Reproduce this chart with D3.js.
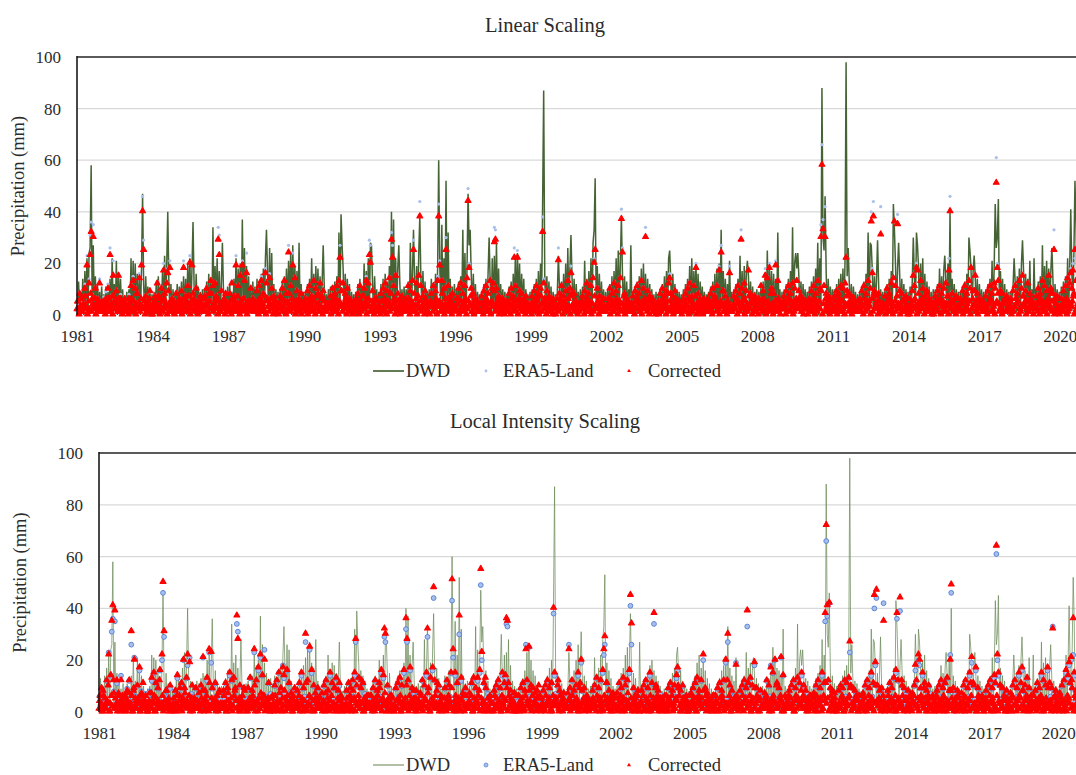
<!DOCTYPE html>
<html><head><meta charset="utf-8">
<script src="https://cdn.jsdelivr.net/npm/d3@7/dist/d3.min.js"></script>
<style>
body{margin:0;background:#fff}
</style></head><body>
<svg id="chart" width="1076" height="775"></svg>
<script>
// ---- data: one row per year 1981..2020, semi-monthly readings (24 per row) ----
const tickYears = [1981,1984,1987,1990,1993,1996,1999,2002,2005,2008,2011,2014,2017,2020];
const yTicks = [0,20,40,60,80,100];
const titles = ["Linear Scaling","Local Intensity Scaling"];
const legendNames = ["DWD","ERA5-Land","Corrected"];

const dwd = [
[3,13,1,9,2,14,0,17,3,22,1,24,26,58,1,27,2,15,0,12,2,9,1,11],
[1,8,0,11,2,9,1,14,0,22,2,12,1,21,0,16,3,14,1,10,0,7,2,9],
[2,10,1,22,0,21,3,20,1,16,2,14,0,18,47,12,1,15,2,11,0,9,1,8],
[1,9,2,12,0,15,1,11,3,17,0,23,2,19,40,14,1,12,0,10,2,8,1,12],
[2,11,0,13,1,15,2,14,0,20,3,22,1,18,36,12,0,16,2,11,1,9,0,10],
[1,10,2,13,0,16,1,14,2,34,0,19,3,22,1,17,0,12,28,10,2,9,1,11],
[2,12,1,9,0,14,2,22,1,18,3,20,0,37,2,26,1,19,0,15,2,10,1,13],
[1,11,0,14,2,13,1,16,3,18,0,22,33,17,1,26,2,24,0,12,1,10,2,9],
[2,10,1,13,0,15,2,18,1,21,3,24,0,27,2,19,1,17,0,28,2,12,1,9],
[1,9,2,12,0,14,1,22,2,16,0,19,3,18,1,15,2,13,27,11,1,8,2,10],
[2,11,1,10,0,13,2,15,1,32,3,39,27,18,0,16,2,14,1,12,0,9,2,8],
[1,9,0,12,2,14,1,11,3,20,0,17,2,22,1,28,27,13,0,15,2,10,1,9],
[2,12,1,14,0,16,2,13,1,19,3,40,2,37,0,22,1,18,27,12,2,10,0,11],
[1,10,2,13,0,28,1,16,33,14,2,19,0,24,38,15,3,17,1,13,0,9,2,10],
[2,14,1,12,0,16,3,18,60,20,1,35,2,22,0,52,1,32,2,14,0,11,1,12],
[1,10,2,13,0,15,2,33,1,24,0,18,47,27,33,16,2,16,1,12,0,9,2,8],
[2,9,1,12,0,14,2,16,30,13,1,22,0,23,2,28,1,18,0,12,2,10,1,9],
[1,8,2,11,0,13,1,16,2,23,0,24,3,20,1,16,2,14,0,10,1,8,2,9],
[2,10,1,12,0,14,2,17,1,20,3,44,87,16,0,15,2,13,1,11,0,9,2,8],
[1,9,23,11,0,13,2,16,1,20,0,26,2,18,31,15,1,14,0,12,2,9,1,10],
[2,11,1,21,0,14,2,17,1,22,0,28,33,53,2,19,1,16,0,13,2,10,1,9],
[1,10,2,12,0,15,1,17,2,22,0,25,3,20,38,16,1,15,0,13,2,10,1,27],
[2,9,1,11,0,13,2,15,1,18,0,20,2,16,1,14,0,12,2,10,1,8,0,9],
[1,8,2,10,0,12,1,15,2,17,0,22,25,14,1,16,2,12,0,10,1,9,2,8],
[2,10,1,12,0,14,2,19,1,22,0,17,2,20,1,16,0,13,2,11,1,9,0,8],
[1,9,2,11,0,13,1,16,2,18,0,20,3,33,1,17,2,14,0,12,1,21,2,9],
[2,10,1,12,0,14,2,23,1,17,0,19,2,16,21,15,1,13,0,11,2,9,1,10],
[1,9,2,11,0,13,1,15,2,25,0,19,2,17,1,16,0,14,2,32,1,10,0,9],
[2,10,1,12,0,14,2,17,1,34,0,20,24,18,24,15,1,13,0,12,2,10,1,9],
[1,11,2,13,0,15,1,18,2,28,0,22,3,88,30,25,46,17,0,14,2,11,1,10],
[2,10,1,12,0,14,2,16,1,18,0,21,98,15,26,13,1,12,0,11,2,9,1,8],
[1,9,2,11,0,13,1,16,2,32,0,28,27,17,1,15,2,14,29,12,1,10,0,9],
[2,10,1,12,0,14,2,17,1,43,33,20,2,18,28,16,0,14,2,12,1,10,0,9],
[1,11,2,13,30,15,1,32,27,18,0,20,2,22,1,16,0,13,2,11,1,9,0,10],
[2,10,1,12,0,18,2,15,1,17,23,14,2,20,1,40,0,14,2,12,1,10,0,9],
[1,9,2,11,0,13,1,16,2,30,25,18,0,17,23,15,1,14,0,12,2,10,1,9],
[2,10,1,12,0,14,2,21,1,18,43,26,30,45,1,17,2,14,0,12,1,10,0,9],
[1,9,2,11,22,13,1,15,2,18,0,20,29,17,1,16,0,14,2,21,1,10,0,22],
[2,10,1,13,0,15,2,27,1,19,0,21,2,18,1,17,26,14,0,12,2,10,1,9],
[1,11,2,13,0,15,1,22,2,19,41,17,2,24,52,35,1,16,0,13,2,11,1,10]
];

const era5 = [
[6,4,9,2,7,5,3,12,4,23,2,14,31,36,8,35,3,11,5,7,2,14,4,6],
[3,7,2,9,5,12,4,26,2,8,21,6,3,10,5,16,2,8,6,4,3,7,5,2],
[4,8,3,12,6,15,2,11,5,9,3,16,4,20,46,29,3,8,5,6,2,9,4,3],
[5,3,8,2,13,4,7,3,11,6,20,9,4,13,18,5,21,3,7,2,6,4,9,3],
[4,7,3,10,5,21,2,8,6,12,3,23,4,19,9,5,3,11,6,4,2,8,5,3],
[3,8,5,11,2,9,6,14,3,12,4,13,8,6,34,31,2,10,4,6,3,9,5,2],
[5,9,3,13,4,8,6,23,2,12,5,16,3,21,7,14,4,24,6,5,3,11,4,7],
[4,6,2,10,5,12,3,15,6,9,2,18,13,7,4,16,3,11,5,8,2,6,4,3],
[5,8,3,11,4,14,2,9,6,27,3,12,5,24,4,15,2,10,6,7,3,9,5,4],
[3,7,5,10,2,12,4,8,6,14,3,11,5,9,2,13,4,8,10,6,2,5,4,3],
[4,8,3,11,5,9,2,12,6,14,27,10,4,13,3,9,5,11,2,7,4,6,3,5],
[3,6,2,9,4,12,5,8,3,11,6,15,4,13,29,27,2,10,5,7,3,6,4,2],
[4,9,3,11,6,13,2,10,5,15,4,32,27,12,3,16,6,9,4,7,2,8,5,3],
[5,7,3,12,4,10,6,14,29,9,2,13,5,16,44,12,4,8,3,10,5,6,2,4],
[4,9,5,12,3,10,6,15,43,21,4,14,2,11,5,30,3,12,6,8,2,9,4,3],
[3,7,5,11,2,13,4,9,6,12,3,15,49,20,5,11,2,9,4,7,3,6,5,2],
[5,8,3,10,4,12,6,9,2,14,5,11,13,34,33,11,4,8,6,5,2,7,4,3],
[4,6,2,9,5,11,3,8,26,12,4,25,6,10,3,9,5,7,2,8,4,5,3,2],
[5,8,3,10,4,12,6,9,2,11,5,38,14,7,4,10,3,8,5,6,2,7,4,3],
[4,7,26,9,3,12,5,8,6,10,4,14,2,11,19,8,5,9,3,6,4,5,2,3],
[5,8,3,10,4,13,6,9,2,12,5,15,22,26,4,11,3,8,5,6,2,7,4,3],
[4,7,3,11,5,9,2,13,6,10,4,12,3,15,41,26,5,9,2,7,4,6,3,2],
[5,8,4,10,3,12,6,9,2,14,4,11,5,34,3,10,6,8,4,7,2,5,3,4],
[3,6,2,9,4,11,5,8,3,10,6,13,16,9,4,8,2,10,5,6,3,4,2,3],
[4,7,3,9,5,11,2,13,6,8,4,12,3,20,5,9,2,7,4,6,3,5,2,3],
[3,6,5,9,2,11,4,8,6,12,3,19,5,27,4,10,2,8,5,6,3,19,4,2],
[4,8,3,10,5,12,6,9,33,11,4,13,2,10,5,18,3,9,6,7,2,8,4,3],
[5,7,3,12,4,10,6,18,2,15,5,20,3,11,4,9,6,21,2,14,4,6,3,5],
[4,8,3,10,5,12,2,9,6,13,4,11,5,14,3,10,6,8,2,7,4,6,3,5],
[3,7,5,10,2,12,4,9,6,14,3,11,35,66,37,12,42,9,4,8,2,7,5,3],
[4,8,3,10,5,9,2,12,6,11,4,13,23,10,5,9,3,8,6,7,2,6,4,3],
[3,7,2,10,4,12,5,9,3,14,6,11,40,18,44,10,4,8,6,9,3,42,2,4],
[4,8,3,11,5,9,6,13,2,15,36,12,4,39,5,10,3,9,6,7,2,8,4,3],
[3,7,5,10,16,12,4,20,18,9,6,14,3,11,5,8,2,10,4,7,3,6,5,2],
[4,8,3,10,5,12,6,9,2,11,4,13,5,8,22,46,3,9,6,7,2,8,4,3],
[3,7,5,10,2,12,4,9,6,14,11,19,3,10,5,16,2,9,4,7,3,6,5,2],
[4,8,3,10,5,12,6,9,2,13,11,61,20,14,5,10,3,9,6,7,2,8,4,3],
[3,7,2,10,4,12,5,9,6,14,3,11,16,8,4,10,6,13,2,9,4,6,3,5],
[4,8,3,11,5,9,6,14,2,12,4,10,5,16,3,11,6,9,33,7,2,8,4,3],
[3,7,5,10,2,12,4,15,6,13,18,11,20,9,22,14,4,8,2,7,3,6,5,2]
];

const corrLS = [
[5,2,8,1,6,3,2,10,3,19,1,12,23,32,6,30,2,10,4,6,1,12,3,5],
[2,5,1,6,4,10,3,23,1,7,15,5,2,9,4,15,1,6,5,3,2,6,4,1],
[3,6,2,11,5,13,1,10,4,8,2,14,3,19,40,25,2,7,4,5,1,9,3,2],
[4,2,7,1,12,3,6,2,10,5,17,8,3,12,16,4,18,2,6,1,5,3,8,2],
[3,6,2,9,4,18,1,7,5,11,2,20,3,19,8,4,2,10,5,3,1,7,4,2],
[2,7,4,10,1,8,5,13,2,11,3,12,7,5,29,23,1,9,3,5,2,8,4,1],
[4,8,2,12,3,7,5,19,1,11,4,15,2,19,6,13,3,16,5,4,2,10,3,6],
[3,5,1,9,4,11,2,13,5,8,1,16,12,6,3,14,2,10,4,7,1,5,3,2],
[4,7,2,10,3,13,1,8,5,24,2,11,4,19,3,14,1,9,5,6,2,8,4,3],
[2,6,4,9,1,11,3,7,5,13,2,10,4,8,1,12,3,7,9,5,1,4,3,2],
[3,7,2,10,4,8,1,11,5,13,22,9,3,12,2,8,4,10,1,6,3,5,2,4],
[2,5,1,8,3,11,4,7,2,10,5,13,3,12,23,20,1,9,4,6,2,5,3,1],
[3,8,2,10,5,12,1,9,4,14,3,29,22,11,2,15,5,8,3,6,1,7,4,2],
[4,6,2,11,3,9,5,13,25,8,1,12,4,15,38,11,3,7,2,9,4,5,1,3],
[3,8,4,11,2,9,5,13,38,19,3,13,1,10,4,25,2,11,5,7,1,8,3,2],
[2,6,4,10,1,12,3,8,5,11,2,14,44,18,4,10,1,8,3,6,2,5,4,1],
[4,7,2,9,3,11,5,8,1,13,4,10,12,28,29,10,3,7,5,4,1,6,3,2],
[3,5,1,8,4,10,2,7,22,11,3,22,5,9,2,8,4,6,1,7,3,4,2,1],
[4,7,2,9,3,11,5,8,1,10,4,32,12,6,3,9,2,7,4,5,1,6,3,2],
[3,6,21,8,2,11,4,7,5,9,3,13,1,10,16,7,4,8,2,5,3,4,1,2],
[4,7,2,9,3,12,5,8,1,11,4,14,20,25,3,10,2,7,4,5,1,6,3,2],
[3,6,2,10,4,8,1,12,5,9,3,11,2,14,37,24,4,8,1,6,3,5,2,1],
[4,7,3,9,2,11,5,8,1,13,3,10,4,30,2,9,5,7,3,6,1,4,2,3],
[2,5,1,8,3,10,4,7,2,9,5,12,14,8,3,7,1,9,4,5,2,3,1,2],
[3,6,2,8,4,10,1,12,5,7,3,11,2,18,4,8,1,6,3,5,2,4,1,2],
[2,5,4,8,1,10,3,7,5,11,2,17,4,24,3,9,1,7,4,5,2,16,3,1],
[3,7,2,9,4,11,5,8,29,10,3,12,1,9,4,17,2,8,5,6,1,7,3,2],
[4,6,2,11,3,9,5,15,1,14,4,18,2,10,3,8,5,19,1,13,3,5,2,4],
[3,7,2,9,4,11,1,8,5,12,3,10,4,13,2,9,5,7,1,6,3,5,2,4],
[2,6,4,9,1,11,3,8,5,13,2,10,30,58,33,11,30,8,3,7,1,6,4,2],
[3,7,2,9,4,8,1,11,5,10,3,12,22,9,4,8,2,7,5,6,1,5,3,2],
[2,6,1,9,3,11,4,8,2,13,5,10,36,16,38,9,3,7,5,8,2,31,1,3],
[3,7,2,10,4,8,5,12,1,14,36,11,3,35,4,9,2,8,5,6,1,7,3,2],
[2,6,4,9,15,11,3,18,17,8,5,13,2,10,4,7,1,9,3,6,2,5,4,1],
[3,7,2,9,4,11,5,8,1,10,3,12,4,7,17,40,2,8,5,6,1,7,3,2],
[2,6,4,9,1,11,3,8,5,13,10,18,2,9,4,15,1,8,3,6,2,5,4,1],
[3,7,2,9,4,11,5,8,1,12,10,51,18,13,4,9,2,8,5,6,1,7,3,2],
[2,6,1,9,3,11,4,8,5,13,2,10,15,7,3,9,5,12,1,8,3,5,2,4],
[3,7,2,10,4,8,5,13,1,11,3,9,4,15,2,10,5,8,25,6,1,7,3,2],
[2,6,4,9,1,11,3,14,5,12,16,10,17,8,25,13,3,7,1,6,2,5,4,1]
];

// in-between days of the Linear Scaling corrected series (also 24 per year)
const corrLSmid = [
[2,5,0,3,6,1,4,2,7,3,0,5,2,8,1,4,3,6,0,2,5,1,3,4],
[1,4,3,0,5,2,6,1,3,4,0,7,2,5,3,1,6,2,4,0,3,5,1,2],
[3,0,4,2,6,1,5,3,0,8,2,4,1,6,3,2,5,0,4,1,3,6,2,0],
[0,3,5,1,4,2,7,0,3,5,1,6,2,4,0,9,3,1,5,2,4,0,3,1],
[4,1,2,5,0,3,6,2,4,1,7,3,0,5,2,6,1,4,3,0,2,5,1,3],
[2,6,1,3,4,0,5,2,8,3,1,4,6,2,0,5,3,1,4,2,6,0,3,1],
[1,3,5,0,2,6,3,1,4,7,2,0,5,3,1,6,2,4,0,3,5,1,2,4],
[3,1,4,2,5,0,6,3,1,4,2,7,0,5,3,1,4,6,2,0,3,5,1,2],
[0,4,2,6,1,3,5,0,4,2,8,1,3,6,2,4,0,5,3,1,2,4,0,3],
[2,5,1,3,0,4,6,2,3,1,5,0,7,2,4,1,3,6,0,2,5,3,1,4],
[4,2,0,5,3,1,6,4,2,0,5,3,9,1,4,2,6,0,3,5,1,2,4,0],
[1,3,6,2,4,0,5,1,3,7,2,4,0,6,3,1,5,2,4,0,3,6,1,2],
[3,0,5,1,2,6,4,0,3,5,1,8,2,4,6,0,3,1,5,2,0,4,3,1],
[2,4,1,3,6,0,5,2,4,1,3,6,0,7,2,5,1,3,4,0,6,2,1,3],
[0,5,3,1,4,2,6,0,3,5,1,4,8,2,0,6,3,1,4,2,5,0,3,2],
[3,1,4,6,0,2,5,3,1,4,6,0,2,5,3,7,1,4,0,2,5,3,1,4],
[1,4,2,0,5,3,6,1,2,4,0,5,3,9,1,4,2,6,0,3,1,5,2,0],
[4,2,5,1,3,0,6,4,2,1,5,3,0,6,2,4,1,3,5,0,2,4,1,3],
[2,0,3,5,1,4,6,2,0,3,7,1,4,2,5,0,3,6,1,4,2,0,5,3],
[0,3,1,4,6,2,5,0,3,1,4,2,6,3,0,8,2,4,1,5,3,0,2,4],
[3,5,2,0,4,1,6,3,5,2,0,4,1,7,3,2,5,0,4,1,3,6,2,1],
[1,2,4,6,0,3,5,1,2,4,6,0,3,5,1,4,2,7,0,3,5,1,4,2],
[4,1,3,0,5,2,6,4,1,3,0,5,2,6,4,1,3,0,5,2,6,1,3,0],
[2,4,0,3,1,5,6,2,4,0,3,8,1,5,2,4,0,3,6,1,2,5,3,1],
[0,2,5,1,4,3,6,0,2,5,1,4,3,7,0,2,5,1,4,3,0,6,2,4],
[3,6,1,4,2,0,5,3,6,1,4,2,0,5,3,9,1,4,2,0,5,3,1,2],
[1,3,4,2,6,0,5,1,3,4,2,6,0,5,1,3,7,2,4,0,6,1,3,5],
[4,0,2,5,3,1,6,4,0,2,5,3,1,8,4,0,2,5,3,1,6,2,0,4],
[2,5,3,0,1,4,6,2,5,3,0,1,4,6,2,5,3,7,1,4,0,2,5,3],
[0,4,1,3,5,2,6,0,4,1,3,5,2,9,0,4,1,6,3,5,2,0,4,1],
[3,1,5,2,0,4,6,3,1,5,2,0,4,7,3,1,5,2,0,4,6,3,1,2],
[1,5,2,4,3,0,6,1,5,2,4,3,0,6,1,8,2,4,3,0,5,1,2,4],
[4,2,0,3,5,1,6,4,2,0,3,5,1,7,4,2,0,3,5,1,6,2,4,0],
[2,0,4,1,3,5,6,2,0,4,1,3,5,6,2,0,4,8,1,3,5,2,0,4],
[0,3,5,2,4,1,6,0,3,5,2,4,1,7,0,3,5,2,4,1,6,0,3,2],
[3,4,1,5,0,2,6,3,4,1,5,0,2,6,3,9,1,5,0,2,4,3,1,5],
[1,2,3,0,4,5,6,1,2,3,0,4,5,8,1,2,3,0,4,5,6,1,2,3],
[4,5,0,2,1,3,6,4,5,0,2,1,3,7,4,5,0,2,1,3,6,4,5,0],
[2,3,4,1,5,0,6,2,3,4,1,5,0,6,2,3,8,1,5,0,4,2,3,1],
[0,1,2,4,3,5,6,0,1,2,4,3,5,7,0,1,2,4,3,5,6,0,1,3]
];

const corrLOCI = [
[4,1,9,0,6,2,1,12,3,22,0,14,35,41,7,39,1,12,3,6,0,12,2,5],
[1,6,0,8,3,12,2,31,0,8,20,5,1,10,3,17,0,7,4,2,1,6,3,0],
[2,7,1,13,4,15,0,11,3,9,1,16,2,22,50,31,1,8,3,4,0,10,2,1],
[3,1,8,0,14,2,6,1,11,4,20,9,2,13,22,3,19,1,5,0,4,2,9,1],
[2,7,1,10,3,21,0,8,4,13,1,24,2,23,9,3,1,11,4,2,0,8,3,1],
[1,8,3,11,0,9,4,15,1,12,2,13,8,4,37,28,0,10,2,4,1,9,3,0],
[3,9,1,13,2,8,4,24,0,12,3,17,1,22,5,14,2,20,4,3,1,11,2,5],
[2,6,0,10,3,12,1,15,4,9,0,17,14,5,2,16,1,11,3,7,0,6,2,1],
[3,8,1,11,2,15,0,9,4,30,1,12,3,25,2,16,0,10,4,5,1,9,3,2],
[1,7,3,10,0,12,2,8,4,15,1,11,3,9,0,13,2,8,11,4,0,5,2,1],
[2,8,1,11,3,9,0,12,4,15,28,10,2,13,1,9,3,11,0,5,2,6,1,3],
[1,6,0,9,2,12,3,8,1,11,4,16,2,14,32,30,0,10,3,5,1,6,2,0],
[2,9,1,11,4,13,0,10,3,16,2,36,28,12,1,17,4,9,2,5,0,8,3,1],
[3,7,1,12,2,10,4,15,32,9,0,13,3,17,48,12,2,8,1,10,3,6,0,2],
[2,9,3,12,1,10,4,15,51,24,2,15,0,11,3,37,1,13,4,6,0,9,2,1],
[1,7,3,11,0,13,2,9,4,13,1,16,55,23,3,11,0,9,2,5,1,6,3,0],
[3,8,1,10,2,12,4,9,0,15,3,11,14,36,35,11,2,8,4,3,0,7,2,1],
[2,6,0,9,3,11,1,8,24,12,2,25,4,10,1,9,3,7,0,8,2,5,1,0],
[3,8,1,10,2,12,4,9,0,11,3,40,15,5,2,10,1,8,3,4,0,7,2,1],
[2,7,24,9,1,12,3,8,4,10,2,15,0,11,20,8,3,9,1,4,2,5,0,1],
[3,8,1,10,2,13,4,9,0,12,3,16,24,29,2,11,1,8,3,4,0,7,2,1],
[2,7,1,11,3,9,0,13,4,10,2,12,1,16,45,34,3,9,0,5,2,6,1,0],
[3,8,2,10,1,12,4,9,0,15,2,11,3,38,1,10,4,8,2,5,0,5,1,2],
[1,6,0,9,2,11,3,8,1,10,4,14,17,9,2,8,0,10,3,4,1,4,0,1],
[2,7,1,9,3,11,0,13,4,8,2,12,1,22,3,9,0,7,2,4,1,5,0,1],
[1,6,3,9,0,11,2,8,4,12,1,20,3,30,2,10,0,8,3,4,1,18,2,0],
[2,8,1,10,3,12,4,9,39,11,2,13,0,10,3,19,1,9,4,5,0,8,2,1],
[3,7,1,12,2,10,4,17,0,15,3,20,1,11,2,9,4,21,0,14,2,6,1,3],
[2,8,1,10,3,12,0,9,4,13,2,11,3,15,1,10,4,8,0,5,2,6,1,3],
[1,7,3,10,0,12,2,9,4,15,1,11,38,72,41,12,42,9,2,8,0,7,3,1],
[2,8,1,10,3,9,0,12,4,11,2,13,27,10,3,9,1,8,4,5,0,6,2,1],
[1,7,0,10,2,12,3,9,1,15,4,11,45,19,47,10,2,8,4,9,1,35,0,2],
[2,8,1,11,3,9,4,13,0,16,38,12,2,44,3,10,1,9,4,5,0,8,2,1],
[1,7,3,10,18,12,2,22,20,9,4,15,1,11,3,8,0,10,2,5,1,6,3,0],
[2,8,1,10,3,12,4,9,0,11,2,13,3,8,20,49,1,9,4,5,0,8,2,1],
[1,7,3,10,0,12,2,9,4,15,11,21,1,10,3,17,0,9,2,5,1,6,3,0],
[2,8,1,10,3,12,4,9,0,14,11,64,22,15,3,10,1,9,4,5,0,8,2,1],
[1,7,0,10,2,12,3,9,4,15,1,11,17,8,2,10,4,13,0,9,2,6,1,3],
[2,8,1,11,3,9,4,15,0,12,2,10,3,17,1,11,4,9,32,5,0,8,2,1],
[1,7,3,10,0,12,2,16,4,14,19,11,21,9,36,15,2,8,0,5,1,6,3,0]
];

// in-between days of the Local Intensity Scaling corrected series
const corrLOCImid = [
[1,6,3,0,8,2,5,1,4,10,0,3,6,2,12,1,5,3,0,7,2,4,1,6],
[3,0,5,2,4,7,1,3,6,0,9,2,4,1,5,3,0,6,2,11,1,4,3,0],
[0,4,2,7,1,3,6,0,5,2,4,12,1,3,6,0,4,2,8,1,5,3,0,2],
[2,5,0,3,6,1,4,9,2,0,5,3,7,1,4,2,6,0,3,10,1,5,2,4],
[4,1,3,0,5,8,2,4,1,6,3,0,11,2,5,1,4,3,0,6,2,7,1,3],
[1,3,6,2,0,4,7,1,3,5,0,2,6,9,1,4,2,5,0,3,6,1,8,2],
[3,0,2,5,4,1,6,3,10,2,4,0,5,1,7,3,2,6,0,4,1,5,3,0],
[0,5,3,1,6,2,4,0,7,3,1,5,2,8,0,4,6,1,3,2,5,0,4,9],
[2,4,1,6,0,3,5,2,4,1,11,0,3,6,2,5,1,4,0,7,3,2,5,1],
[5,2,0,4,3,7,1,5,2,0,4,6,1,3,9,2,0,5,4,1,6,3,0,2],
[1,3,5,0,2,6,4,1,8,5,0,3,2,6,4,1,12,3,0,5,2,4,1,6],
[3,6,2,4,1,0,5,3,6,2,9,1,0,5,3,7,2,4,1,0,6,3,5,2],
[0,2,4,1,5,3,6,0,2,4,1,5,10,3,0,6,2,4,1,8,3,5,0,2],
[4,1,6,3,0,2,5,4,1,7,3,0,2,5,4,1,6,3,11,2,0,4,1,5],
[2,5,1,0,4,6,3,2,9,1,0,4,6,3,2,5,1,0,4,7,3,2,6,1],
[1,4,3,6,2,0,5,1,4,3,6,8,0,5,1,4,3,13,2,0,5,1,4,3],
[3,0,6,2,5,1,4,3,0,6,2,5,1,4,9,0,6,2,5,1,4,7,0,6],
[0,6,2,4,3,5,1,0,6,2,4,3,8,1,0,6,2,4,3,5,1,10,6,2],
[5,3,1,0,6,2,4,5,3,1,0,6,2,4,5,3,12,0,6,2,4,5,3,1],
[2,1,4,5,0,3,6,2,1,4,5,0,3,9,2,1,4,5,0,3,6,2,1,4],
[4,2,5,3,1,0,6,4,2,5,3,1,0,6,4,11,5,3,1,0,6,4,2,5],
[1,5,0,2,4,6,3,1,5,0,2,4,7,3,1,5,0,2,4,6,3,1,8,0],
[3,4,2,6,0,1,5,3,4,2,6,0,1,5,3,9,2,6,0,1,5,3,4,2],
[6,0,3,1,5,4,2,6,0,3,1,5,4,10,6,0,3,1,5,4,2,6,0,3],
[0,3,6,4,2,5,1,0,3,6,4,2,5,1,8,3,6,4,2,5,1,0,3,6],
[2,6,4,0,3,1,5,2,6,4,0,3,1,12,2,6,4,0,3,1,5,2,6,4],
[5,1,2,3,6,0,4,5,1,2,3,6,0,4,5,1,9,3,6,0,4,5,1,2],
[1,2,5,6,4,3,0,1,2,5,6,4,3,10,1,2,5,6,4,3,0,1,2,5],
[4,6,1,5,2,3,0,4,6,1,5,2,3,8,4,6,1,5,2,3,0,4,6,1],
[3,5,0,1,6,4,2,3,5,0,1,6,4,11,3,5,0,1,6,4,2,3,5,0],
[0,1,3,2,5,6,4,0,1,3,2,5,6,9,0,1,3,2,5,6,4,0,1,3],
[6,4,2,5,1,0,3,6,4,2,5,1,0,3,10,4,2,5,1,0,3,6,4,2],
[2,3,6,0,4,5,1,2,3,6,0,4,5,1,2,12,6,0,4,5,1,2,3,6],
[5,0,4,6,3,2,1,5,0,4,6,3,2,9,5,0,4,6,3,2,1,5,0,4],
[1,6,5,3,0,4,2,1,6,5,3,0,4,2,1,8,5,3,0,4,2,1,6,5],
[3,2,0,4,6,1,5,3,2,0,4,6,1,11,3,2,0,4,6,1,5,3,2,0],
[4,5,3,2,1,6,0,4,5,3,2,1,6,0,4,10,3,2,1,6,0,4,5,3],
[0,4,1,6,5,2,3,0,4,1,6,5,2,8,0,4,1,6,5,2,3,0,4,1],
[6,3,4,0,2,5,1,6,3,4,0,2,5,1,9,3,4,0,2,5,1,6,3,4],
[2,0,6,5,3,1,4,2,0,6,5,3,1,12,2,0,6,5,3,1,4,2,0,6]
];

// ---- drawing ----
const FONT = "'Liberation Serif', 'Times New Roman', Times, 'DejaVu Serif', 'Noto Serif', serif";
const TXT = '#2b2b2b';
const svg = d3.select('#chart');
const firstYear = 1981;
// turn year rows into dated points; offset 0.5 = middle of each half-month, 0 = its start
function toPoints(rows, offset){
  const out = [];
  rows.forEach((row, r) => {
    const y0 = new Date(firstYear + r, 0, 1);
    row.forEach((v, j) => {
      out.push({d: d3.timeHour.offset(y0, Math.round((j + offset) / row.length * 365 * 24)), v});
    });
  });
  return out;
}
function styleText(sel, size){
  sel.attr('font-family', FONT).style('font-family', FONT).style('font-size', size + 'px')
     .attr('fill', TXT).style('fill', TXT);
  return sel;
}

const panels = [
  {title:titles[0], titleY:25, left:77, right:1085, top:57, bottom:315, corr:corrLS, corrMid:corrLSmid,
   dwdColor:'#3b5b2a', dwdW:1.5, dwdOp:0.95,
   eraR:1.6, eraFill:'#a9c0ea', eraStroke:'none', eraSW:0, triSize:15,
   yTitleX:18, xLabelY:336, legendY:371,
   legLine:'#3b5b2a', legEraR:1.4, legTri:6},
  {title:titles[1], titleY:421, left:99, right:1083, top:453, bottom:712, corr:corrLOCI, corrMid:corrLOCImid,
   dwdColor:'#6f8c5c', dwdW:1, dwdOp:0.75,
   eraR:2.4, eraFill:'#a8bfec', eraStroke:'#5b86d6', eraSW:1, triSize:15,
   yTitleX:20, xLabelY:733, legendY:765,
   legLine:'#9fb28f', legEraR:2, legTri:7}
];

panels.forEach(p => {
  const g = svg.append('g');
  const x = d3.scaleTime().domain([new Date(1981,0,1), new Date(2021,0,1)]).range([p.left, p.right]);
  const y = d3.scaleLinear().domain([0,100]).range([p.bottom, p.top]);

  styleText(g.append('text').attr('x', 545).attr('y', p.titleY).attr('text-anchor','middle')
    .attr('dominant-baseline','central').text(p.title), 20.5);

  // gridlines
  g.append('g').selectAll('line').data(yTicks.filter(t => t > 0 && t < 100)).join('line')
    .attr('x1', p.left).attr('x2', p.right).attr('y1', d => y(d)).attr('y2', d => y(d))
    .attr('stroke', '#d9d9d9').attr('stroke-width', 1.3);

  // DWD line
  g.append('path').datum(toPoints(dwd, 0.5))
    .attr('d', d3.line().x(d => x(d.d)).y(d => y(d.v)))
    .attr('fill','none').attr('stroke', p.dwdColor).attr('stroke-width', p.dwdW)
    .attr('stroke-opacity', p.dwdOp);

  // ERA5-Land points
  g.append('g').selectAll('circle').data(toPoints(era5, 0.5)).join('circle')
    .attr('cx', d => x(d.d)).attr('cy', d => y(d.v)).attr('r', p.eraR)
    .attr('fill', p.eraFill).attr('stroke', p.eraStroke).attr('stroke-width', p.eraSW);

  // Corrected points (triangles)
  const tri = d3.symbol(d3.symbolTriangle, p.triSize)();
  const corrPts = toPoints(p.corrMid, 0).concat(toPoints(p.corr, 0.5));
  g.append('g').selectAll('path').data(corrPts).join('path')
    .attr('d', tri).attr('fill', '#ff0000').attr('stroke', '#ff0000')
    .attr('stroke-width', 1.1).attr('stroke-linejoin', 'round')
    .attr('transform', d => `translate(${x(d.d)},${y(d.v) - 0.8})`);

  // frame: top border and left axis
  g.append('line').attr('x1', p.left).attr('x2', p.right).attr('y1', y(100)).attr('y2', y(100))
    .attr('stroke', '#5a5a5a').attr('stroke-width', 1.8);
  g.append('line').attr('x1', p.left).attr('x2', p.left).attr('y1', y(100) - 0.9).attr('y2', y(0))
    .attr('stroke', '#1a1a1a').attr('stroke-width', 1.6);

  // y axis labels
  const ya = g.append('g').attr('transform', `translate(${p.left},0)`)
    .call(d3.axisLeft(y).tickValues(yTicks).tickSize(0).tickPadding(16));
  ya.attr('font-family', FONT);
  ya.select('.domain').remove();
  styleText(ya.selectAll('text'), 17);

  // x axis labels
  const xa = g.append('g').attr('transform', `translate(0,${p.bottom})`)
    .call(d3.axisBottom(x).tickValues(tickYears.map(t => new Date(t,0,1))).tickFormat(d3.timeFormat('%Y')).tickSize(0));
  xa.attr('font-family', FONT);
  xa.select('.domain').remove();
  styleText(xa.selectAll('text').attr('y', p.xLabelY - p.bottom).attr('dy', null).attr('dominant-baseline','central'), 17);

  // y title
  styleText(g.append('text').attr('transform', `translate(${p.yTitleX},${(p.top + p.bottom)/2}) rotate(-90)`)
    .attr('text-anchor','middle').attr('dominant-baseline','central')
    .text('Precipitation (mm)'), 18.5);

  // legend
  const ly = p.legendY;
  const lg = g.append('g');
  lg.append('line').attr('x1', 373).attr('x2', 404).attr('y1', ly).attr('y2', ly)
    .attr('stroke', p.legLine).attr('stroke-width', 1.6);
  styleText(lg.append('text').attr('x', 406).attr('y', ly).attr('dominant-baseline','central').text(legendNames[0]), 18.5);
  lg.append('circle').attr('cx', 486).attr('cy', ly).attr('r', p.legEraR)
    .attr('fill', p.eraFill).attr('stroke', p.eraStroke).attr('stroke-width', p.eraSW ? 0.8 : 0);
  styleText(lg.append('text').attr('x', 503).attr('y', ly).attr('dominant-baseline','central').text(legendNames[1]), 18.5);
  lg.append('path').attr('d', d3.symbol(d3.symbolTriangle, p.legTri)()).attr('fill','#ff0000')
    .attr('transform', `translate(629,${ly})`);
  styleText(lg.append('text').attr('x', 648).attr('y', ly).attr('dominant-baseline','central').text(legendNames[2]), 18.5);
});
</script>
</body></html>
